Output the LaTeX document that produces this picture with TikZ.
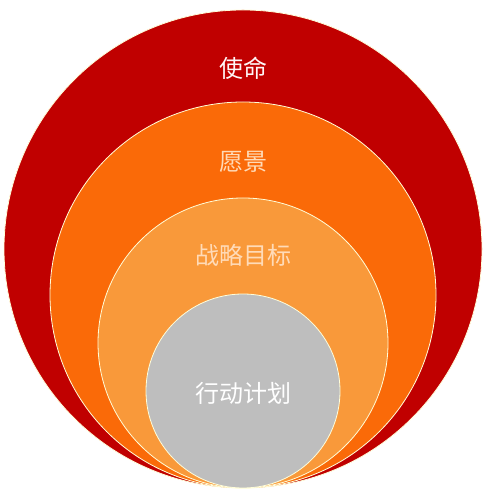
\documentclass[tikz,border=0pt]{standalone}
\usepackage{fontspec}
\setmainfont{Noto Sans CJK SC}
\definecolor{mission}{HTML}{C00000}
\definecolor{vision}{HTML}{FA6A08}
\definecolor{goal}{HTML}{F9993A}
\definecolor{plan}{HTML}{BEBEBE}
\begin{document}
\begin{tikzpicture}[x=1pt,y=1pt,
		ring/.style={draw=white!85!yellow,line width=0.8pt},
		label/.style={font=\fontsize{24}{26}\selectfont,inner sep=0pt}]
		\useasboundingbox (0,0) rectangle (488,500);
		\filldraw[ring,fill=mission] (243,251) circle (239);
		\filldraw[ring,fill=vision] (243,205) circle (193);
		\filldraw[ring,fill=goal] (243,157) circle (145);
		\filldraw[ring,fill=plan] (243,109) circle (97);
		\node[label,text=white!85!pink] (mission) at (243,432) {使命};
		\node[label,text=white!72!orange] (vision) at (243,338) {愿景};
		\node[label,text=white!72!orange] (goal) at (243,245) {战略目标};
		\node[label,text=white] (plan) at (243,107) {行动计划};
  \end{tikzpicture}
\end{document}
